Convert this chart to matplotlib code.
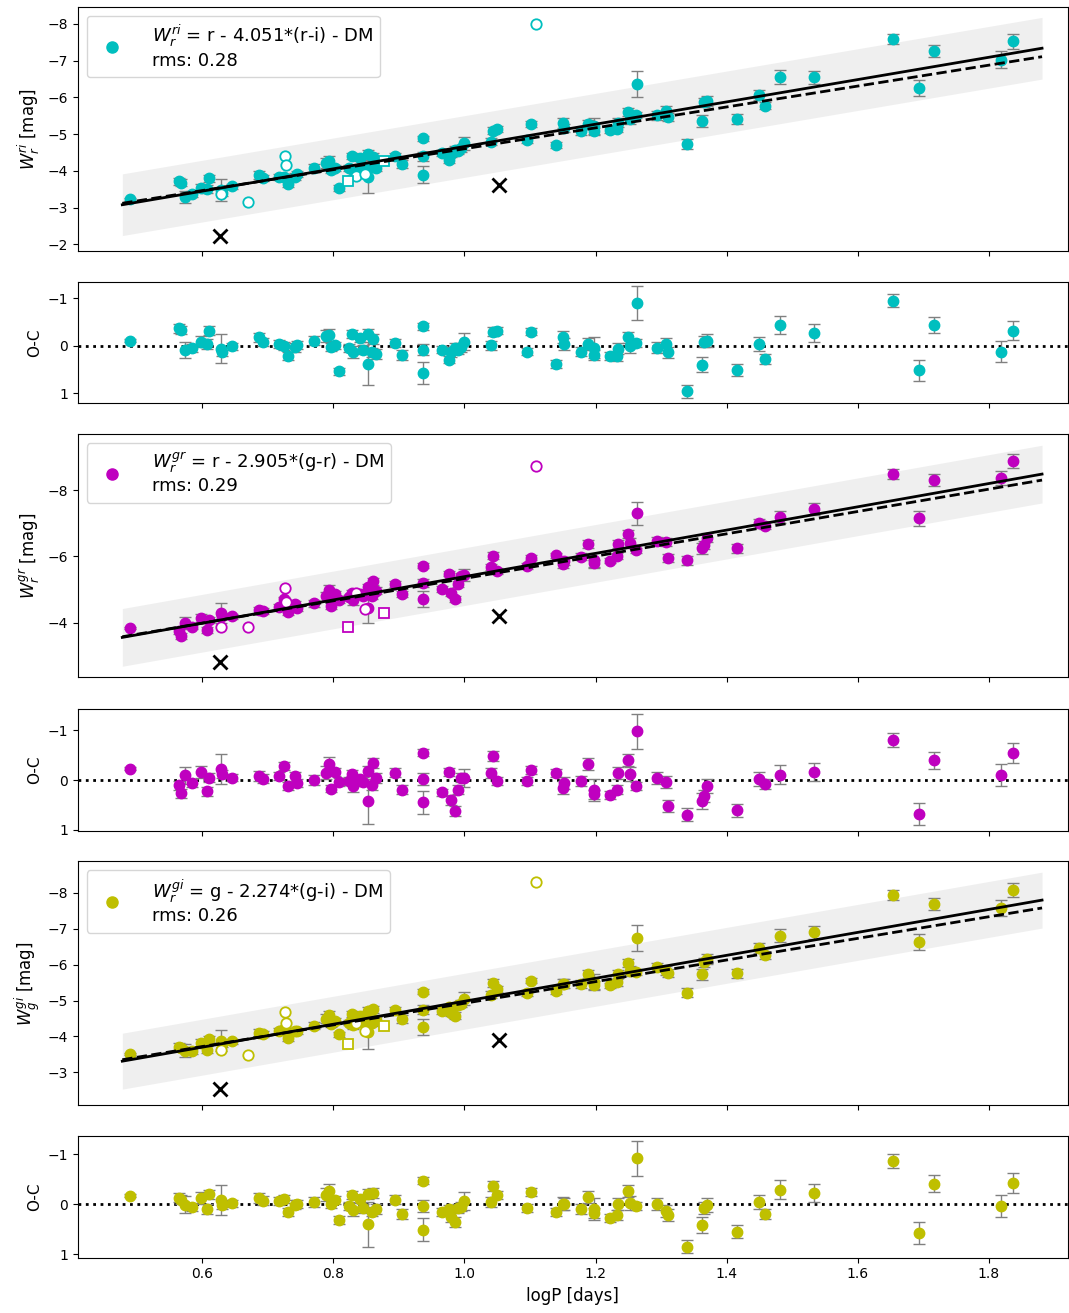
import matplotlib
matplotlib.use("Agg")
import numpy as np
import matplotlib.pyplot as plt

# ---------------- data ----------------
# periods of the fitted stars (log days)
logP = [0.489, 0.565, 0.567, 0.574, 0.585, 0.598, 0.607, 0.610, 0.628, 0.630,
        0.646, 0.686, 0.693, 0.717, 0.725, 0.731, 0.741, 0.744, 0.771, 0.788,
        0.793, 0.796, 0.802, 0.808, 0.824, 0.829, 0.830, 0.841, 0.845, 0.853,
        0.853, 0.859, 0.861, 0.865, 0.894, 0.905, 0.937, 0.937, 0.937, 0.965,
        0.977, 0.980, 0.985, 0.990, 0.994, 1.000, 1.040, 1.044, 1.050, 1.095,
        1.102, 1.139, 1.150, 1.152, 1.178, 1.189, 1.197, 1.198, 1.222, 1.232,
        1.234, 1.250, 1.253, 1.261, 1.263, 1.294, 1.308, 1.310, 1.340, 1.363,
        1.365, 1.370, 1.416, 1.450, 1.459, 1.481, 1.533, 1.653, 1.694, 1.716,
        1.819, 1.837]

# O-C residuals
oc_ri = [-0.11, -0.37, -0.33, 0.08, 0.04, -0.09, -0.04, -0.32, 0.06, 0.13,
         0.01, -0.18, -0.08, -0.04, 0.00, 0.21, 0.03, -0.02, -0.11, -0.20,
         -0.23, 0.02, -0.01, 0.54, 0.05, -0.25, 0.13, -0.16, 0.08, -0.25,
         0.38, 0.14, -0.14, 0.17, -0.06, 0.19, -0.41, 0.08, 0.58, 0.08,
         0.29, 0.13, 0.05, 0.08, 0.03, -0.09, -0.01, -0.30, -0.32, 0.12,
         -0.30, 0.38, -0.18, -0.04, 0.12, -0.04, 0.04, 0.19, 0.22, 0.22,
         0.06, -0.18, 0.01, -0.06, -0.90, 0.04, -0.04, 0.14, 0.96, 0.40,
         -0.09, -0.11, 0.51, -0.04, 0.28, -0.44, -0.27, -0.95, 0.51, -0.43,
         0.12, -0.32]
oc_gr = [-0.23, 0.10, 0.27, -0.10, 0.05, -0.17, 0.23, -0.05, -0.22, -0.12,
         -0.05, -0.09, -0.03, -0.08, -0.28, 0.12, -0.08, 0.05, 0.00, -0.15,
         -0.33, 0.17, -0.17, 0.03, 0.01, -0.12, 0.12, -0.02, 0.03, -0.19,
         0.43, 0.10, -0.35, -0.05, -0.15, 0.19, -0.55, -0.03, 0.45, 0.25,
         -0.17, 0.41, 0.62, 0.19, -0.05, -0.05, -0.15, -0.48, 0.01, 0.01,
         -0.21, -0.15, 0.15, 0.05, 0.02, -0.33, 0.20, 0.29, 0.30, 0.19,
         -0.15, -0.41, -0.13, 0.12, -0.98, -0.05, 0.03, 0.53, 0.70, 0.42,
         0.33, 0.12, 0.61, -0.03, 0.07, -0.11, -0.17, -0.80, 0.68, -0.40,
         -0.10, -0.55]
oc_gi = [-0.17, -0.13, -0.09, 0.01, 0.06, -0.12, 0.09, -0.20, -0.09, 0.01,
         -0.02, -0.13, -0.07, -0.07, -0.11, 0.16, 0.01, 0.00, -0.05, -0.19,
         -0.27, -0.01, -0.09, 0.31, 0.03, -0.19, 0.11, -0.10, 0.08, -0.21,
         0.40, 0.15, -0.22, 0.10, -0.09, 0.19, -0.47, 0.03, 0.51, 0.16,
         0.09, 0.25, 0.35, 0.08, 0.05, -0.07, -0.05, -0.37, -0.19, 0.08,
         -0.25, 0.15, -0.01, 0.00, 0.09, -0.15, 0.10, 0.18, 0.27, 0.21,
         -0.01, -0.27, -0.03, 0.03, -0.92, -0.01, 0.13, 0.21, 0.85, 0.41,
         0.08, 0.01, 0.55, -0.04, 0.19, -0.29, -0.22, -0.87, 0.58, -0.41,
         0.03, -0.42]
err = [0.03, 0.09, 0.09, 0.17, 0.08, 0.12, 0.10, 0.09, 0.30, 0.08,
       0.07, 0.10, 0.09, 0.08, 0.08, 0.08, 0.09, 0.08, 0.10, 0.13,
       0.13, 0.08, 0.08, 0.08, 0.08, 0.08, 0.13, 0.08, 0.09, 0.10,
       0.45, 0.09, 0.10, 0.10, 0.09, 0.10, 0.07, 0.12, 0.23, 0.08,
       0.08, 0.10, 0.10, 0.09, 0.09, 0.18, 0.10, 0.10, 0.08, 0.08,
       0.08, 0.08, 0.13, 0.12, 0.10, 0.12, 0.22, 0.10, 0.08, 0.10,
       0.12, 0.12, 0.14, 0.08, 0.35, 0.12, 0.12, 0.12, 0.13, 0.16,
       0.12, 0.14, 0.13, 0.14, 0.10, 0.19, 0.18, 0.14, 0.22, 0.17,
       0.22, 0.20]

# fitted relations (solid) and reference relations (dashed): slope, zero point
fit_ri = [-3.036, -1.629]
ref_ri = [-2.844, -1.760]
fit_gr = [-3.507, -1.884]
ref_gr = [-3.364, -1.972]
fit_gi = [-3.200, -1.780]
ref_gi = [-3.015, -1.909]
rms = [0.28, 0.29, 0.26]

# rejected stars: open circles, open squares, crosses
circ_P = [0.628, 0.670, 0.726, 0.727, 0.834, 0.848, 1.109]
circ_ri = [-3.38, -3.15, -4.40, -4.15, -3.86, -3.93, -7.99]
circ_gr = [-3.86, -3.86, -5.04, -4.63, -4.91, -4.41, -8.73]
circ_gi = [-3.61, -3.48, -4.68, -4.38, -4.36, -4.15, -8.30]
sq_P = [0.823, 0.877]
sq_ri = [-3.73, -4.26]
sq_gr = [-3.86, -4.30]
sq_gi = [-3.79, -4.29]
x_P = [0.627, 1.053]
x_ri = [-2.23, -3.61]
x_gr = [-2.82, -4.20]
x_gi = [-2.52, -3.89]

labels = [r"$W_r^{ri}$ = r - 4.051*(r-i) - DM" + "\nrms: 0.28",
          r"$W_r^{gr}$ = r - 2.905*(g-r) - DM" + "\nrms: 0.29",
          r"$W_r^{gi}$ = g - 2.274*(g-i) - DM" + "\nrms: 0.26"]
ylabels = [r"$W_r^{ri}$ [mag]", r"$W_r^{gr}$ [mag]", r"$W_g^{gi}$ [mag]"]

# ---------------- plot ----------------
P = np.array(logP)
fig = plt.figure(figsize=(10.69, 13.13), dpi=100)
left, width = 0.0727, 0.926
main_rects = [[left, 0.8088, width, 0.1861],
              [left, 0.4842, width, 0.1853],
              [left, 0.1582, width, 0.1858]]
oc_rects = [[left, 0.6928, width, 0.0927],
            [left, 0.3673, width, 0.0927],
            [left, 0.0421, width, 0.0927]]
main_ylim = [(-1.82, -8.47), (-2.36, -9.69), (-2.08, -8.88)]
main_ticks = [np.arange(-8, -1, 1), np.arange(-8, -3, 2), np.arange(-8, -2, 1)]
oc_ylim = [(1.21, -1.35), (1.02, -1.43), (1.07, -1.37)]

colors = ['c', 'm', 'y']
ocs = [oc_ri, oc_gr, oc_gi]
fits = [fit_ri, fit_gr, fit_gi]
refs = [ref_ri, ref_gr, ref_gi]
circs = [circ_ri, circ_gr, circ_gi]
sqs = [sq_ri, sq_gr, sq_gi]
xs = [x_ri, x_gr, x_gi]

xl = np.array([0.478, 1.881])
for k in range(3):
    col = colors[k]
    oc = np.array(ocs[k])
    a, b = fits[k]
    W = a * P + b + oc

    ax = fig.add_axes(main_rects[k])
    ax.fill_between(xl, a * xl + b - 3 * rms[k], a * xl + b + 3 * rms[k],
                    color='0.5', alpha=0.12, lw=0)
    ax.errorbar(P, W, yerr=err, fmt='o', color=col, ms=7.5, ecolor='grey',
                elinewidth=1.0, capsize=4, capthick=1.0, zorder=3)
    ax.plot([], [], 'o', color=col, ms=8, label=labels[k])
    ax.plot(circ_P, circs[k], 'o', mfc='white', mec=col, ms=7.5, mew=1.3, zorder=4)
    ax.plot(sq_P, sqs[k], 's', mfc='white', mec=col, ms=7.5, mew=1.3, zorder=4)
    ax.plot(x_P, xs[k], 'x', color='k', ms=10, mew=2, zorder=4)
    ax.plot(xl, a * xl + b, 'k-', lw=2, zorder=5)
    ax.plot(xl, refs[k][0] * xl + refs[k][1], 'k--', lw=2, zorder=5)
    ax.set_xlim(0.41, 1.92)
    ax.set_ylim(main_ylim[k])
    ax.set_yticks(main_ticks[k])
    ax.set_xticks(np.arange(0.6, 1.81, 0.2))
    ax.set_xticklabels([])
    ax.set_ylabel(ylabels[k], fontsize=12)
    ax.legend(loc='upper left', fontsize=13, handletextpad=1.2)

    # residual panel
    ax2 = fig.add_axes(oc_rects[k])
    ax2.axhline(0, color='k', ls=':', lw=2)
    ax2.errorbar(P, oc, yerr=err, fmt='o', color=col, ms=7.5, ecolor='grey',
                 elinewidth=1.0, capsize=4, capthick=1.0, zorder=3)
    ax2.set_xlim(0.41, 1.92)
    ax2.set_ylim(oc_ylim[k])
    ax2.set_yticks([-1, 0, 1])
    ax2.set_xticks(np.arange(0.6, 1.81, 0.2))
    ax2.set_ylabel("O-C", fontsize=11)
    if k < 2:
        ax2.set_xticklabels([])
    else:
        ax2.set_xlabel("logP [days]", fontsize=12)

plt.savefig("out.png", dpi=100)
